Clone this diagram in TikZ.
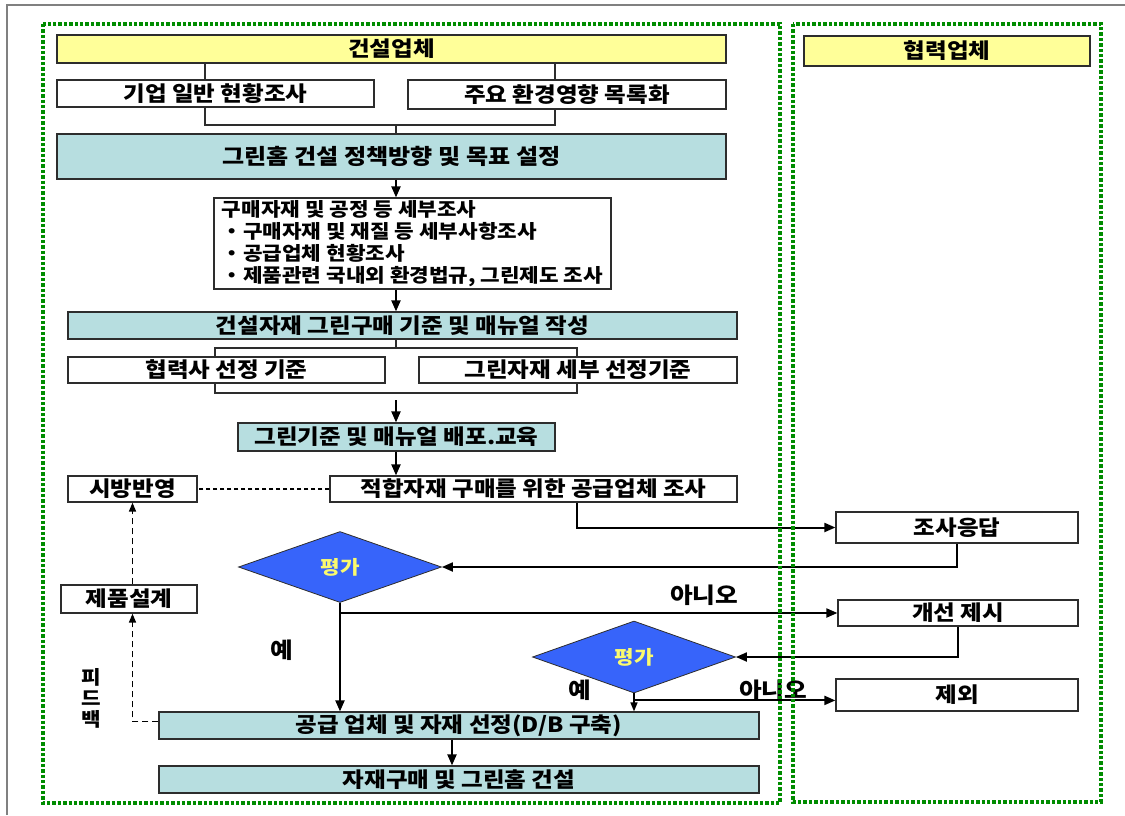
\documentclass[tikz,border=0pt]{standalone}
\usepackage{fontspec}
\setmainfont{Noto Sans CJK KR}[FakeStretch=1.12]
\usetikzlibrary{arrows.meta, positioning, shapes.geometric, calc}

\definecolor{hdrfill}{RGB}{255,255,153}
\definecolor{tealfill}{RGB}{183,222,224}
\definecolor{evalblue}{RGB}{55,100,250}
\definecolor{evaltext}{RGB}{250,250,110}
\definecolor{frameg}{RGB}{0,140,0}
\definecolor{boxline}{RGB}{45,45,45}

\begin{document}
\begin{tikzpicture}[x=1pt, y=-1pt,
    box/.style={draw=boxline, line width=1.2pt, fill=white, inner sep=0pt, font=\bfseries\fontsize{21}{24}\selectfont},
    hdr/.style={box, fill=hdrfill, font=\bfseries\fontsize{21}{24}\selectfont},
    gbox/.style={box, fill=tealfill, font=\bfseries\fontsize{21}{24}\selectfont},
    eval/.style={diamond, draw=boxline, line width=0.8pt, fill=evalblue, text=evaltext, inner sep=0pt, minimum width=203pt, minimum height=71pt, font=\bfseries\fontsize{19}{20}\selectfont},
    lbl/.style={font=\bfseries\fontsize{22}{24}\selectfont},
    arr/.style={line width=2pt, -{Triangle[length=11pt,width=9pt]}},
    link/.style={line width=1.2pt, draw=boxline},
    fb/.style={line width=1.5pt, dash pattern=on 6pt off 4pt},
    frame/.style={draw=frameg, line width=3.4pt, dash pattern=on 3.4pt off 2pt}]
    \useasboundingbox (0,0) rectangle (1125,815);

    % outer border
    \draw[gray, line width=1.5pt] (7,815) -- (7,5) -- (1125,5);

    % bracket behind the two criteria boxes
    \coordinate (brA) at (215,348);
    \coordinate (brB) at (577,393);
    \draw[link] (brA) rectangle (brB);

    % headers
    \node[hdr, minimum width=669pt, minimum height=28pt] (builder) at (391.5,49) {건설업체};
    \node[hdr, minimum width=286pt, minimum height=30pt] (partners) at (947,51) {협력업체};

    % planning steps
    \node[box, minimum width=317pt, minimum height=27pt] (survey) at (215.5,93.5) {기업 일반 현황조사};
    \node[box, minimum width=318pt, minimum height=29pt] (envlist) at (567,94.5) {주요 환경영향 목록화};
    \node[gbox, font=\bfseries\fontsize{21.5}{24}\selectfont, minimum width=669pt, minimum height=45pt] (policy) at (391.5,156.5) {그린홈 건설 정책방향 및 목표 설정};
    \node[box, font=\bfseries\fontsize{19}{22}\selectfont, minimum width=397pt, minimum height=91pt,
          align=left] (detail) at (412.5,243.5)
          {구매자재 및 공정 등 세부조사\\・구매자재 및 재질 등 세부사항조사\\・공급업체 현황조사\\・제품관련 국내외 환경법규, 그린제도 조사};
    \node[gbox, minimum width=669pt, minimum height=27pt] (manual) at (402.5,325.5) {건설자재 그린구매 기준 및 매뉴얼 작성};
    \node[box, minimum width=317pt, minimum height=26pt] (partnercrit) at (226.5,370) {협력사 선정 기준};
    \node[box, minimum width=318pt, minimum height=26pt] (greencrit) at (578,370) {그린자재 세부 선정기준};
    \node[gbox, minimum width=317pt, minimum height=28pt] (edu) at (396.5,437) {그린기준 및 매뉴얼 배포.교육};
    \node[box, minimum width=407pt, minimum height=26pt] (supplier) at (533.5,489) {적합자재 구매를 위한 공급업체 조사};
    \node[box, minimum width=129pt, minimum height=26pt] (spec) at (132.5,489) {시방반영};

    % evaluation loop
    \node[box, minimum width=242pt, minimum height=31pt] (reply) at (957,527.5) {조사응답};
    \node[eval] (eval1) at (340,567) {평가};
    \node[box, minimum width=136pt, minimum height=28pt] (design) at (129,599) {제품설계};
    \node[box, minimum width=240pt, minimum height=26pt] (improve) at (958,613) {개선 제시};
    \node[eval, minimum height=72pt] (eval2) at (634,657) {평가};
    \node[box, minimum width=242pt, minimum height=32pt] (exclude) at (957,695) {제외};
    \node[gbox, minimum width=600pt, minimum height=27pt] (select) at (459,725.5) {공급 업체 및 자재 선정(D/B 구축)};
    \node[gbox, minimum width=600pt, minimum height=27pt] (build) at (459,779.5) {자재구매 및 그린홈 건설};

    % labels
    \node[lbl] (yes1) at (282,650) {예};
    \node[lbl] (no1) at (704,595) {아니오};
    \node[lbl] (yes2) at (580,690) {예};
    \node[lbl] (no2) at (773,690) {아니오};
    \node[lbl, align=center, font=\bfseries\fontsize{19}{21}\selectfont] (fback) at (91,698) {피\\드\\백};

    % connectors
    \coordinate (colL) at (205,0);
    \coordinate (colR) at (555,0);
    \coordinate (col) at (396,0);
    \coordinate (joinY) at (0,125);
    \draw[link] (colL |- builder.south) -- (colL |- survey.north);
    \draw[link] (colR |- builder.south) -- (colR |- envlist.north);
    \draw[link] (colL |- survey.south) -- (colL |- joinY) -- (colR |- joinY) -- (colR |- envlist.south);
    \draw[link] (col |- joinY) -- (col |- policy.north);
    \draw[arr] (col |- policy.south) -- (col |- detail.north);
    \draw[arr] (col |- detail.south) -- (col |- manual.north);
    \draw[link] (col |- manual.south) -- (col |- brA);
    \draw[arr] ($(col |- brB)+(0,7)$) -- (col |- edu.north);
    \draw[arr] (col |- edu.south) -- (col |- supplier.north);
    \draw[line width=1.3pt, dash pattern=on 4pt off 3pt] (supplier.west) -- (spec.east);
    \draw[arr] (supplier.south -| brB) |- (reply.west);
    \draw[arr] (reply.south) |- (eval1.east);
    \draw[arr] (eval1.south) -- (eval1.south |- select.north);
    \draw[arr] (eval1.south |- improve.west) -- (improve.west);
    \draw[arr] (improve.south) |- (eval2.east);
    \draw[line width=1.5pt, -{Triangle[length=9pt,width=7pt]}] (eval2.south) -- (eval2.south |- select.north);
    \coordinate (e2b) at ($(eval2.south)+(0,7)$);
    \draw[arr] (e2b) -- (e2b -| exclude.west);
    \draw[arr] ($(select.south)+(-7,0)$) -- ($(build.north)+(-7,0)$);
    \draw[fb, -{Triangle[length=9pt,width=7pt]}] (spec.south |- design.north) -- (spec.south);
    \draw[fb, -{Triangle[length=9pt,width=7pt]}] ($(select.west)+(0,-4)$) -| (spec.south |- design.south);

    % dotted frames
    \draw[frame] (43,24) rectangle (780,803);
    \draw[frame] (793,24) rectangle (1101,802);
\end{tikzpicture}
\end{document}
